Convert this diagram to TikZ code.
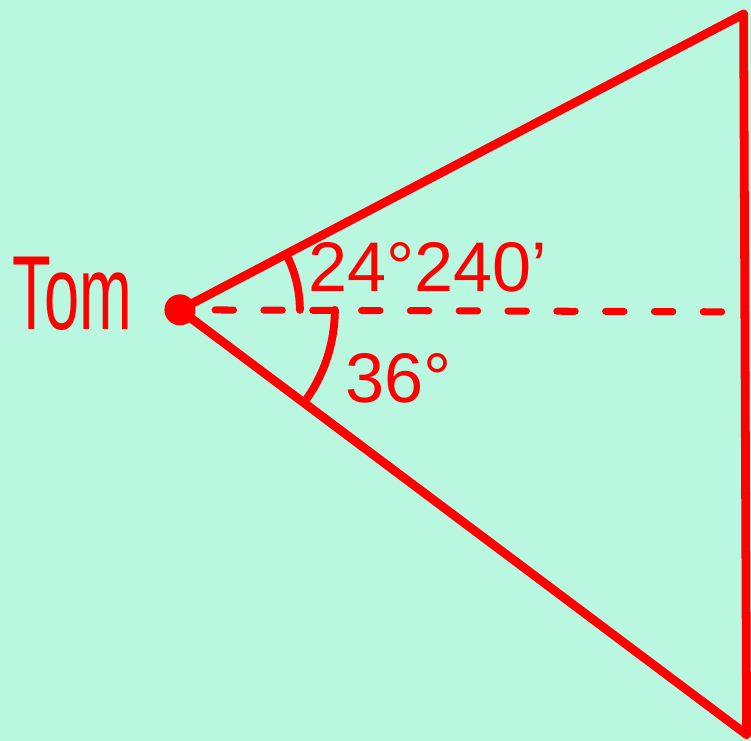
\documentclass[tikz,border=0pt]{standalone}
\usepackage{fontspec}
\usepackage{graphicx}
\setmainfont{Liberation Sans}
\definecolor{mint}{HTML}{BAF7E0}
\definecolor{pen}{HTML}{FF0000}

\begin{document}
\begin{tikzpicture}[x=0.02cm, y=0.02cm,
  stroke/.style={pen, line width=5pt, line cap=round, line join=round},
  dashline/.style={pen, line width=4pt, line cap=round, dash pattern=on 10.5pt off 17.3pt},
  anglearc/.style={pen, line width=4.5pt, line cap=round},
  hand/.style={text=pen, inner sep=0pt, anchor=base west, font=\fontsize{40}{44}\selectfont}]
  % sfondo
  \fill[mint] (0,0) rectangle (751,741);

  % Tom e vertici
  \node[circle, fill=pen, minimum size=0.62cm, inner sep=0pt] (tom) at (180,431) {};
  \coordinate (top) at (744,727);
  \coordinate (bottom) at (747,6);
  \coordinate (horizon) at (725,429);

  % triangolo
  \draw[stroke] (tom.center) -- (top) -- (bottom) -- cycle;

  % linea orizzontale
  \draw[dashline, shorten <=11pt] (tom) -- (horizon);

  % angoli
  \draw[anglearc] (tom.center) ++(27.7:120) arc[start angle=27.7, end angle=0, radius=120];
  \draw[anglearc] (tom.center) ++(0:155) arc[start angle=0, end angle=-36.9, radius=155];

  % etichette
  \node[hand] (upper) at (308,449) {24°240'};
  \node[hand] (lower) at (345,338) {36°};
  \node[hand, font=\fontsize{60}{64}\selectfont] (name) at (12,411) {\scalebox{0.6}[1]{Tom}};
\end{tikzpicture}
\end{document}
